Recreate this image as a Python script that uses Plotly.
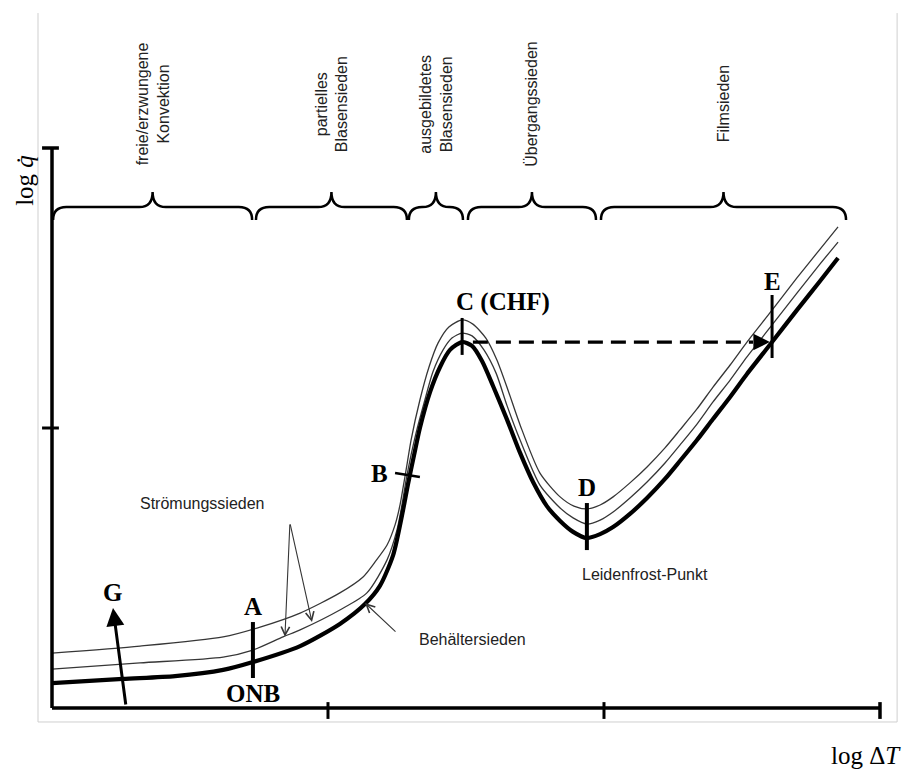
import plotly.graph_objects as go

# Siedekurve (Nukiyama): log q̇ über log ΔT, schematische Einheiten
# x: 0..3 (Achsenteilung 1, 2, 3), y: 0..2 (Achsenteilung 1, 2)

# Behältersieden (dicke Kurve)
pool_x = [0.000, 0.257, 0.446, 0.620, 0.728, 0.899, 1.043, 1.134, 1.188, 1.236,
          1.272, 1.290, 1.312, 1.333, 1.370, 1.406, 1.442, 1.486, 1.522, 1.558,
          1.598, 1.649, 1.696, 1.743, 1.793, 1.841, 1.888, 1.938, 1.986, 2.033,
          2.094, 2.156, 2.221, 2.275, 2.337, 2.395, 2.457, 2.518, 2.609, 2.699,
          2.783, 2.848]
pool_y = [0.089, 0.104, 0.114, 0.136, 0.164, 0.221, 0.300, 0.371, 0.436, 0.546,
          0.707, 0.800, 0.904, 1.000, 1.129, 1.218, 1.279, 1.307, 1.293, 1.239,
          1.150, 1.029, 0.911, 0.807, 0.721, 0.668, 0.629, 0.607, 0.621, 0.646,
          0.693, 0.750, 0.818, 0.882, 0.957, 1.032, 1.111, 1.193, 1.307, 1.421,
          1.525, 1.607]

# Strömungssieden, niedrige Strömungsgeschwindigkeit
flow1_x = [0.000, 0.319, 0.620, 0.728, 0.837, 0.899, 1.043, 1.141, 1.214, 1.250,
           1.268, 1.283, 1.301, 1.319, 1.351, 1.380, 1.417, 1.449, 1.486, 1.522,
           1.565, 1.609, 1.649, 1.696, 1.768, 1.841, 1.888, 1.938, 1.986, 2.033,
           2.094, 2.156, 2.221, 2.275, 2.337, 2.395, 2.457, 2.518, 2.609, 2.699,
           2.783, 2.848]
flow1_y = [0.139, 0.161, 0.182, 0.207, 0.254, 0.279, 0.350, 0.411, 0.529, 0.636,
           0.725, 0.814, 0.904, 0.982, 1.100, 1.200, 1.279, 1.321, 1.339, 1.329,
           1.279, 1.196, 1.079, 0.957, 0.796, 0.714, 0.679, 0.657, 0.671, 0.700,
           0.750, 0.807, 0.875, 0.939, 1.014, 1.093, 1.171, 1.254, 1.368, 1.482,
           1.586, 1.664]

# Strömungssieden, hohe Strömungsgeschwindigkeit
flow2_x = [0.000, 0.319, 0.620, 0.754, 0.899, 1.043, 1.127, 1.170, 1.214, 1.243,
           1.261, 1.275, 1.286, 1.301, 1.333, 1.366, 1.399, 1.438, 1.486, 1.525,
           1.572, 1.612, 1.652, 1.696, 1.768, 1.841, 1.891, 1.938, 1.986, 2.033,
           2.094, 2.156, 2.221, 2.275, 2.337, 2.395, 2.457, 2.518, 2.609, 2.699,
           2.783, 2.848]
flow2_y = [0.196, 0.221, 0.254, 0.289, 0.339, 0.411, 0.468, 0.521, 0.582, 0.654,
           0.725, 0.804, 0.868, 0.957, 1.100, 1.218, 1.304, 1.361, 1.386, 1.371,
           1.321, 1.243, 1.136, 1.011, 0.839, 0.754, 0.721, 0.711, 0.725, 0.754,
           0.804, 0.861, 0.929, 0.993, 1.068, 1.146, 1.225, 1.307, 1.421, 1.536,
           1.639, 1.718]

# Achsen
x_ticks = [1, 2, 3]
y_ticks = [1, 2]
x_max = 3
y_max = 2

# Siedebereiche (Anfang, Ende auf der log-ΔT-Achse)
region_start = [0.004, 0.739, 1.293, 1.507, 1.989]
region_end = [0.725, 1.286, 1.489, 1.971, 2.877]
region_names = ["freie/erzwungene<br>Konvektion", "partielles<br>Blasensieden",
                "ausgebildetes<br>Blasensieden", "Übergangssieden", "Filmsieden"]

# Kennzeichnende Punkte: Beschriftung und Lage der Beschriftung
point_text = ["G", "A", "ONB", "B", "C (CHF)", "D", "E"]
point_text_x = [0.221, 0.728, 0.728, 1.188, 1.634, 1.938, 2.609]
point_text_y = [0.411, 0.364, 0.050, 0.839, 1.450, 0.789, 1.525]

# Markierungsstriche an den Punkten: (x0, y0, x1, y1, Breite)
point_marks = [
    (0.728, 0.107, 0.728, 0.307, 4),    # A / ONB
    (1.243, 0.839, 1.333, 0.825, 2.5),  # B
    (1.486, 1.261, 1.486, 1.393, 3),    # C
    (1.938, 0.564, 1.938, 0.732, 4),    # D
    (2.609, 1.250, 2.609, 1.475, 3),    # E
]

# Sprung bei kritischer Wärmestromdichte C -> E
chf_y = 1.307
chf_x_start = 1.525
chf_x_base = 2.540
chf_x_end = 2.601

# Anstieg der Wärmestromdichte G
g_from = (0.268, 0.007)
g_to = (0.221, 0.357)

# Hinweispfeile
flow_note = ("Strömungssieden", 0.547, 0.729)
flow_apex = (0.862, 0.661)
flow_tips = [(0.844, 0.254), (0.942, 0.307)]
pool_note = ("Behältersieden", 1.525, 0.243)
pool_tail = (1.250, 0.268)
pool_tip = (1.134, 0.375)
leiden_note = ("Leidenfrost-Punkt", 2.149, 0.475)

X_RANGE = [-0.1884, 3.0870]
Y_RANGE = [-0.2179, 2.5286]

SANS = "Liberation Sans, Arial, sans-serif"
SERIF = "Liberation Serif, Times New Roman, serif"
THIN = "#363636"

fig = go.Figure()

for xs, ys in [(flow2_x, flow2_y), (flow1_x, flow1_y)]:
    fig.add_trace(go.Scatter(x=xs, y=ys, mode="lines",
                             line=dict(color=THIN, width=1.3, shape="spline", smoothing=0.7),
                             hoverinfo="skip"))
fig.add_trace(go.Scatter(x=pool_x, y=pool_y, mode="lines",
                         line=dict(color="black", width=4.2, shape="spline", smoothing=0.7),
                         hoverinfo="skip"))

# gestrichelte Linie C -> E
fig.add_trace(go.Scatter(x=[chf_x_start, chf_x_base], y=[chf_y, chf_y], mode="lines",
                         line=dict(color="black", width=3.2, dash="15px,8px"),
                         hoverinfo="skip"))

shapes = []
# Bildrahmen (links, unten, rechts)
frame = dict(type="line", xref="x", yref="y", line=dict(color="#cfcfcf", width=1))
shapes.append(dict(frame, x0=-0.0507, y0=2.482, x1=-0.0507, y1=-0.05))
shapes.append(dict(frame, x0=-0.0507, y0=-0.05, x1=3.062, y1=-0.05))
shapes.append(dict(frame, x0=3.062, y0=2.482, x1=3.062, y1=-0.05))

# Achsen
axis = dict(type="line", xref="x", yref="y", line=dict(color="black", width=3.5))
shapes.append(dict(axis, x0=0, y0=0, x1=x_max, y1=0))
shapes.append(dict(axis, x0=0, y0=0, x1=0, y1=y_max))
for t in x_ticks:
    shapes.append(dict(type="line", xref="x", yref="y", x0=t, x1=t, y0=-0.039, y1=0.021,
                       line=dict(color="black", width=3.5 if t == x_max else 3)))
for t in y_ticks:
    shapes.append(dict(type="line", xref="x", yref="y", x0=-0.036, x1=0.025, y0=t, y1=t,
                       line=dict(color="black", width=3.5 if t == y_max else 3)))

# Markierungen an den Punkten
for x0, y0, x1, y1, w in point_marks:
    shapes.append(dict(type="line", xref="x", yref="y", x0=x0, y0=y0, x1=x1, y1=y1,
                       line=dict(color="black", width=w)))

# geschweifte Klammern über den Siedebereichen
BRACE_FOOT, BRACE_BAR, BRACE_TIP = 1.743, 1.789, 1.843
for a, b in zip(region_start, region_end):
    m = (a + b) / 2
    r = min(0.048, (b - a) / 4)
    path = (f"M{a},{BRACE_FOOT} Q{a},{BRACE_BAR} {a + r},{BRACE_BAR} "
            f"L{m - r},{BRACE_BAR} Q{m},{BRACE_BAR} {m},{BRACE_TIP} "
            f"Q{m},{BRACE_BAR} {m + r},{BRACE_BAR} "
            f"L{b - r},{BRACE_BAR} Q{b},{BRACE_BAR} {b},{BRACE_FOOT}")
    shapes.append(dict(type="path", xref="x", yref="y", path=path,
                       line=dict(color="black", width=2.5)))

annotations = []
# Bereichsnamen (senkrecht)
for a, b, name in zip(region_start, region_end, region_names):
    annotations.append(dict(x=(a + b) / 2, y=2.158, xref="x", yref="y", text=name,
                            textangle=-90, showarrow=False,
                            font=dict(family=SANS, size=16, color="#222")))

# Punktbeschriftungen
for t, x, y in zip(point_text, point_text_x, point_text_y):
    annotations.append(dict(x=x, y=y, xref="x", yref="y", text=f"<b>{t}</b>",
                            showarrow=False,
                            font=dict(family=SERIF, size=25, color="black")))

# Pfeil G
annotations.append(dict(x=g_to[0], y=g_to[1], ax=g_from[0], ay=g_from[1],
                        xref="x", yref="y", axref="x", ayref="y", text="",
                        showarrow=True, arrowhead=2, arrowsize=1.2, arrowwidth=3,
                        arrowcolor="black", standoff=0))
# Pfeilspitze des CHF-Sprungs
annotations.append(dict(x=chf_x_end, y=chf_y, ax=chf_x_base, ay=chf_y,
                        xref="x", yref="y", axref="x", ayref="y", text="",
                        showarrow=True, arrowhead=2, arrowsize=1.1, arrowwidth=3,
                        arrowcolor="black", standoff=0))

# Hinweispfeile Strömungssieden / Behältersieden
for tx, ty in flow_tips:
    annotations.append(dict(x=tx, y=ty, ax=flow_apex[0], ay=flow_apex[1],
                            xref="x", yref="y", axref="x", ayref="y", text="",
                            showarrow=True, arrowhead=5, arrowsize=1.5, arrowwidth=1.1,
                            arrowcolor=THIN, standoff=0))
annotations.append(dict(x=pool_tip[0], y=pool_tip[1], ax=pool_tail[0], ay=pool_tail[1],
                        xref="x", yref="y", axref="x", ayref="y", text="",
                        showarrow=True, arrowhead=5, arrowsize=1.5, arrowwidth=1.1,
                        arrowcolor=THIN, standoff=0))

for text, x, y in [flow_note, pool_note, leiden_note]:
    annotations.append(dict(x=x, y=y, xref="x", yref="y", text=text, showarrow=False,
                            font=dict(family=SANS, size=16, color="#222")))

# Achsenbeschriftungen
annotations.append(dict(x=-0.098, y=1.886, xref="x", yref="y", text="log <i>q̇</i>",
                        textangle=-90, showarrow=False,
                        font=dict(family=SERIF, size=25, color="black")))
annotations.append(dict(x=2.949, y=-0.168, xref="x", yref="y", text="log Δ<i>T</i>",
                        showarrow=False,
                        font=dict(family=SERIF, size=25, color="black")))

fig.update_layout(
    width=904, height=769,
    margin=dict(l=0, r=0, t=0, b=0),
    paper_bgcolor="white", plot_bgcolor="white",
    showlegend=False,
    xaxis=dict(range=X_RANGE, visible=False, fixedrange=True),
    yaxis=dict(range=Y_RANGE, visible=False, fixedrange=True),
    shapes=shapes,
    annotations=annotations,
)

fig.write_html("out.html", config={"displayModeBar": False})
